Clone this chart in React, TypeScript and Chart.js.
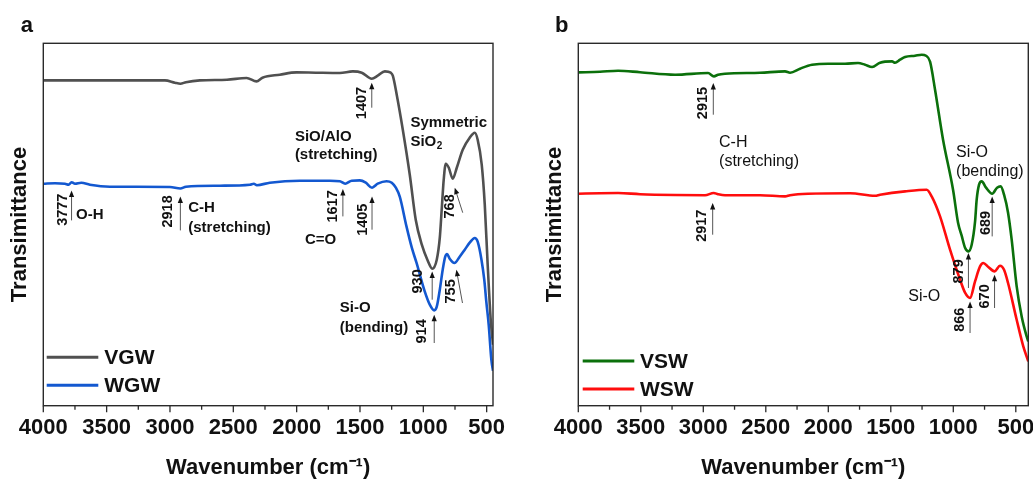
import React, { useEffect, useRef } from "react";
import { Chart, registerables } from "chart.js";

Chart.register(...registerables);

const FONT = "'Liberation Sans', Arial, Helvetica, sans-serif";

// ---------- Data (wavenumber in cm-1, transmittance in arbitrary units) ----------
const vgwWavenumber = [4000, 3553, 3040, 2961, 2918, 2874, 2764, 2550, 2395, 2317, 2270, 2133, 2001, 1850, 1659, 1557, 1486, 1407, 1360, 1304, 1257, 1241, 1210, 1162, 1107, 1060, 1012, 965, 930, 894, 870, 855, 839, 823, 799, 768, 736, 689, 634, 594, 571, 539, 515, 492, 468, 450];
const vgwT = [325.3, 325.3, 325.3, 323, 322, 323.5, 325.3, 326, 327.7, 324.3, 328, 331, 333.3, 333, 332.7, 334.3, 333, 327, 330, 334.3, 333, 330, 311, 276, 231, 186, 161, 145, 137, 146, 168, 196, 226, 242, 238, 227, 238, 256, 268, 273, 266, 241, 201, 141, 86, 61];

const wgwWavenumber = [4000, 3908, 3829, 3800, 3777, 3750, 3700, 3632, 3474, 3000, 2918, 2874, 2606, 2369, 2338, 2314, 2212, 1975, 1738, 1659, 1617, 1565, 1502, 1454, 1405, 1360, 1291, 1249, 1217, 1186, 1133, 1091, 1054, 989, 949, 914, 894, 870, 847, 827, 813, 792, 755, 713, 673, 634, 594, 571, 541, 519, 502, 484, 463, 450];
const wgwT = [222, 222.5, 222, 221, 223.5, 222, 223, 221, 219, 218.7, 217.2, 219, 220, 221, 222, 220.5, 223, 225, 225, 224.5, 222, 225, 225.3, 223, 218, 222, 224.5, 223, 218, 209, 179.3, 158, 143, 114.3, 101, 95.3, 99, 116, 136, 149, 151.7, 147, 142.7, 149, 156, 163, 167.7, 164, 146, 126, 103, 81, 46, 35];

const vswWavenumber = [4000, 3826, 3682, 3506, 3226, 2962, 2915, 2882, 2826, 2546, 2346, 2306, 2226, 2162, 2130, 2002, 1866, 1762, 1706, 1650, 1586, 1490, 1466, 1426, 1386, 1306, 1253, 1218, 1186, 1146, 1082, 1002, 962, 933, 906, 879, 853, 826, 813, 794, 773, 738, 689, 650, 621, 594, 562, 533, 493, 453, 413, 400];
const vswT = [333.3, 334, 335, 333.5, 331, 332.7, 329.3, 331, 332, 333, 334.3, 333, 337, 340, 341, 342, 342, 342.7, 341, 338.7, 343, 344.3, 343, 346, 348.7, 350, 351, 350, 344, 316, 266, 216, 183, 170, 158, 154.3, 161, 184, 206, 221, 224.3, 218, 212, 218, 219.3, 211, 193, 166, 119.3, 89.3, 69.3, 64.3];

const wswWavenumber = [4000, 3826, 3682, 3506, 3226, 2986, 2917, 2882, 2826, 2546, 2346, 2306, 2162, 1826, 1626, 1586, 1386, 1213, 1173, 1106, 1026, 946, 906, 866, 826, 786, 760, 722, 670, 626, 594, 562, 493, 440, 400];
const wswT = [212, 212.5, 212.7, 211.5, 210.7, 210.5, 212.7, 211.5, 210.5, 210.5, 209.3, 210.5, 212, 212.5, 210, 211, 214.3, 216, 209.3, 189.3, 156, 126, 113, 107.7, 124.3, 139.3, 142.7, 139, 134.3, 140, 136, 122.7, 86, 59.3, 44.3];

const majorTicks = [4000, 3500, 3000, 2500, 2000, 1500, 1000, 500];
const minorTicks = [3750, 3250, 2750, 2250, 1750, 1250, 750];

// ---------- Annotations (data coordinates) ----------
type Rot = { t: string; x: number; y: number };
type Lab = { t: string; sub?: string; x: number; y: number };
type Arr = { x1: number; y1: number; x2: number; y2: number };

const aNumbers: Rot[] = [
  { t: "1407", x: 1488, y: 302.7 },
  { t: "768", x: 792, y: 199.3 },
  { t: "3777", x: 3842, y: 196 },
  { t: "2918", x: 3014, y: 194.3 },
  { t: "1617", x: 1712, y: 199.3 },
  { t: "1405", x: 1475, y: 186 },
  { t: "930", x: 1042, y: 124.3 },
  { t: "755", x: 778, y: 114.3 },
  { t: "914", x: 1007, y: 74.3 },
];
const aLabels: Lab[] = [
  { t: "SiO/AlO", x: 2014, y: 269.3 },
  { t: "(stretching)", x: 2014, y: 251 },
  { t: "Symmetric", x: 1102, y: 282.7 },
  { t: "SiO", sub: "2", x: 1102, y: 264.3 },
  { t: "O-H", x: 3742, y: 191 },
  { t: "C-H", x: 2856, y: 197.7 },
  { t: "(stretching)", x: 2856, y: 178.3 },
  { t: "C=O", x: 1935, y: 166 },
  { t: "Si-O", x: 1659, y: 97.7 },
  { t: "(bending)", x: 1659, y: 77.7 },
];
const aArrows: Arr[] = [
  { x1: 1407, y1: 298, x2: 1407, y2: 323 },
  { x1: 689, y1: 193, x2: 752, y2: 218 },
  { x1: 3777, y1: 185.3, x2: 3777, y2: 215.3 },
  { x1: 2918, y1: 175.3, x2: 2918, y2: 209.3 },
  { x1: 1635, y1: 189.3, x2: 1635, y2: 216.7 },
  { x1: 1405, y1: 176, x2: 1405, y2: 209.3 },
  { x1: 930, y1: 106, x2: 930, y2: 134.3 },
  { x1: 691, y1: 102.7, x2: 739, y2: 136 },
  { x1: 914, y1: 62.7, x2: 914, y2: 91 },
];

const bNumbers: Rot[] = [
  { t: "2915", x: 3000, y: 302.7 },
  { t: "689", x: 741, y: 182.7 },
  { t: "2917", x: 3013, y: 180 },
  { t: "879", x: 952, y: 134.3 },
  { t: "866", x: 946, y: 86 },
  { t: "670", x: 747, y: 109.3 },
];
const bLabels: Lab[] = [
  { t: "C-H", x: 2874, y: 263.3 },
  { t: "(stretching)", x: 2874, y: 243.7 },
  { t: "Si-O", x: 978, y: 252.7 },
  { t: "(bending)", x: 978, y: 233.7 },
  { t: "Si-O", x: 1360, y: 109.3 },
];
const bArrows: Arr[] = [
  { x1: 2920, y1: 291, x2: 2920, y2: 322.7 },
  { x1: 689, y1: 169.3, x2: 689, y2: 209.3 },
  { x1: 2925, y1: 171, x2: 2925, y2: 202.7 },
  { x1: 879, y1: 117.7, x2: 879, y2: 152.7 },
  { x1: 866, y1: 72.7, x2: 866, y2: 104.3 },
  { x1: 670, y1: 97.7, x2: 670, y2: 131 },
];

type Panel = {
  letter: string;
  letterX: number;
  xMin: number;
  padding: { left: number; top: number; right: number; bottom: number };
  series: { label: string; wn: number[]; t: number[]; color: string }[];
  numbers: Rot[];
  labels: Lab[];
  arrows: Arr[];
  labelWeight: string;
  labelSize: number;
  legendX: number;
  legendTextX: number;
  legendY: number[];
};

const panels: Panel[] = [
  {
    letter: "a",
    letterX: 20.7,
    xMin: 450,
    padding: { left: 6.8, top: 43.3, right: 23, bottom: 0 },
    series: [
      { label: "VGW", wn: vgwWavenumber, t: vgwT, color: "#505050" },
      { label: "WGW", wn: wgwWavenumber, t: wgwT, color: "#1358d0" },
    ],
    numbers: aNumbers,
    labels: aLabels,
    arrows: aArrows,
    labelWeight: "bold",
    labelSize: 15,
    legendX: 3.4,
    legendTextX: 61,
    legendY: [-48.4, -20.4],
  },
  {
    letter: "b",
    letterX: 39,
    xMin: 400,
    padding: { left: 25.8, top: 43.3, right: 4.7, bottom: 0 },
    series: [
      { label: "VSW", wn: vswWavenumber, t: vswT, color: "#0b700b" },
      { label: "WSW", wn: wswWavenumber, t: wswT, color: "#ff0d0d" },
    ],
    numbers: bNumbers,
    labels: bLabels,
    arrows: bArrows,
    labelWeight: "normal",
    labelSize: 16,
    legendX: 4.4,
    legendTextX: 61.7,
    legendY: [-44.7, -16.7],
  },
];

function makePlugin(p: Panel) {
  return {
    id: "decor_" + p.letter,
    afterDraw(chart: any) {
      const { ctx, chartArea: a, scales } = chart;
      const xs = scales.x;
      const ys = scales.y;
      ctx.save();
      // frame
      ctx.strokeStyle = "#2a2a2a";
      ctx.lineWidth = 1.4;
      ctx.strokeRect(a.left, a.top, a.right - a.left, a.bottom - a.top);
      // ticks
      ctx.lineWidth = 1.3;
      ctx.beginPath();
      majorTicks.forEach((v) => {
        const px = xs.getPixelForValue(v);
        ctx.moveTo(px, a.bottom);
        ctx.lineTo(px, a.bottom + 6.5);
      });
      minorTicks.forEach((v) => {
        const px = xs.getPixelForValue(v);
        ctx.moveTo(px, a.bottom);
        ctx.lineTo(px, a.bottom + 4);
      });
      ctx.stroke();

      // arrows
      p.arrows.forEach((ar) => {
        const x1 = xs.getPixelForValue(ar.x1);
        const y1 = ys.getPixelForValue(ar.y1);
        const x2 = xs.getPixelForValue(ar.x2);
        const y2 = ys.getPixelForValue(ar.y2);
        const ang = Math.atan2(y2 - y1, x2 - x1);
        const hl = 6.5;
        const hw = 2.6;
        ctx.strokeStyle = "#555";
        ctx.lineWidth = 1;
        ctx.beginPath();
        ctx.moveTo(x1, y1);
        ctx.lineTo(x2 - Math.cos(ang) * (hl - 1), y2 - Math.sin(ang) * (hl - 1));
        ctx.stroke();
        ctx.fillStyle = "#111";
        ctx.beginPath();
        ctx.moveTo(x2, y2);
        ctx.lineTo(x2 - Math.cos(ang) * hl - Math.sin(ang) * hw, y2 - Math.sin(ang) * hl + Math.cos(ang) * hw);
        ctx.lineTo(x2 - Math.cos(ang) * hl + Math.sin(ang) * hw, y2 - Math.sin(ang) * hl - Math.cos(ang) * hw);
        ctx.closePath();
        ctx.fill();
      });

      // rotated numbers
      ctx.fillStyle = "#111";
      ctx.font = `bold 14.5px ${FONT}`;
      ctx.textAlign = "center";
      ctx.textBaseline = "middle";
      p.numbers.forEach((n) => {
        const px = xs.getPixelForValue(n.x);
        const py = ys.getPixelForValue(n.y);
        ctx.save();
        ctx.translate(px, py);
        ctx.rotate(-Math.PI / 2);
        ctx.fillText(n.t, 0, 0);
        ctx.restore();
      });

      // labels
      ctx.textAlign = "left";
      ctx.textBaseline = "middle";
      p.labels.forEach((l) => {
        const px = xs.getPixelForValue(l.x);
        const py = ys.getPixelForValue(l.y);
        ctx.font = `${p.labelWeight} ${p.labelSize}px ${FONT}`;
        ctx.fillText(l.t, px, py);
        if (l.sub) {
          const w = ctx.measureText(l.t).width;
          ctx.font = `${p.labelWeight} ${Math.round(p.labelSize * 0.65)}px ${FONT}`;
          ctx.fillText(l.sub, px + w + 0.5, py + 5);
        }
      });

      // legend
      chart.data.datasets.forEach((ds: any, i: number) => {
        const y = a.bottom + p.legendY[i];
        ctx.strokeStyle = ds.borderColor;
        ctx.lineWidth = 3;
        ctx.beginPath();
        ctx.moveTo(a.left + p.legendX, y);
        ctx.lineTo(a.left + p.legendX + 51.6, y);
        ctx.stroke();
        ctx.fillStyle = "#111";
        ctx.font = `bold 21px ${FONT}`;
        ctx.textAlign = "left";
        ctx.textBaseline = "middle";
        ctx.fillText(ds.label, a.left + p.legendTextX, y + 1);
      });

      // panel letter
      ctx.fillStyle = "#111";
      ctx.font = `bold 22px ${FONT}`;
      ctx.textAlign = "left";
      ctx.textBaseline = "alphabetic";
      ctx.fillText(p.letter, p.letterX, 31.7);
      ctx.restore();
    },
  };
}

function PanelChart({ p, left, width }: { p: Panel; left: number; width: number }) {
  const ref = useRef<HTMLCanvasElement | null>(null);
  useEffect(() => {
    if (!ref.current) return;
    const chart = new Chart(ref.current, {
      type: "line",
      data: {
        datasets: p.series.map((s) => ({
          label: s.label,
          data: s.wn.map((w, i) => ({ x: w, y: s.t[i] })),
          borderColor: s.color,
          backgroundColor: s.color,
          borderWidth: 2.6,
          pointRadius: 0,
          fill: false,
          cubicInterpolationMode: "monotone" as const,
        })),
      },
      options: {
        animation: false,
        responsive: false,
        devicePixelRatio: 1,
        layout: { padding: p.padding },
        plugins: { legend: { display: false }, tooltip: { enabled: false } },
        scales: {
          x: {
            type: "linear",
            reverse: true,
            min: p.xMin,
            max: 4000,
            afterBuildTicks: (s: any) => {
              s.ticks = majorTicks.map((v) => ({ value: v }));
            },
            afterFit: (s: any) => {
              s.height = 73.3;
              s.paddingLeft = 0;
              s.paddingRight = 0;
            },
            ticks: {
              autoSkip: false,
              maxRotation: 0,
              padding: 8.6,
              color: "#111",
              font: { family: FONT, size: 22, weight: "bold" },
              callback: (v: any) => String(v),
            },
            grid: { display: false, drawTicks: false },
            border: { display: false },
            title: {
              display: true,
              text: "Wavenumber (cm\u207B\u00B9)",
              color: "#111",
              font: { family: FONT, size: 22, weight: "bold", lineHeight: 1 },
              padding: { top: 0, bottom: 0 },
            },
          },
          y: {
            min: 0,
            max: 362.4,
            afterFit: (s: any) => {
              s.width = 36.5;
              s.paddingTop = 0;
              s.paddingBottom = 0;
            },
            ticks: { display: false },
            grid: { display: false, drawTicks: false },
            border: { display: false },
            title: {
              display: true,
              text: "Transimittance",
              color: "#111",
              font: { family: FONT, size: 22, weight: "bold", lineHeight: 1.2 },
              padding: { top: 0, bottom: 0 },
            },
          },
        },
      } as any,
      plugins: [makePlugin(p)],
    });
    return () => chart.destroy();
  }, [p]);
  return (
    <canvas
      ref={ref}
      width={width}
      height={479}
      style={{ position: "absolute", left, top: 0, width, height: 479 }}
    />
  );
}

export default function App() {
  return (
    <div style={{ position: "absolute", left: 0, top: 0, width: 1033, height: 479, background: "#fff" }}>
      <PanelChart p={panels[0]} left={0} width={516} />
      <PanelChart p={panels[1]} left={516} width={517} />
    </div>
  );
}
